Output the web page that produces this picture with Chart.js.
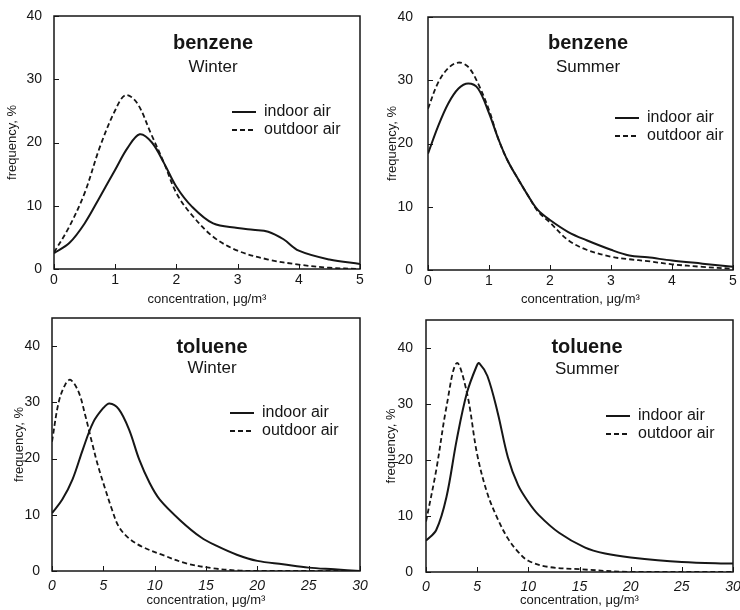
<!DOCTYPE html>
<html>
<head>
<meta charset="utf-8">
<script src="https://cdn.jsdelivr.net/npm/chart.js@4"></script>
<style>
  body { margin: 0; background: #fff; width: 740px; height: 610px; position: relative; overflow: hidden; }
  canvas { position: absolute; }
</style>
</head>
<body>
<canvas id="c1" width="370" height="308" style="left:0;top:0"></canvas>
<canvas id="c2" width="370" height="308" style="left:370px;top:0"></canvas>
<canvas id="c3" width="370" height="310" style="left:0;top:300px"></canvas>
<canvas id="c4" width="370" height="310" style="left:370px;top:300px"></canvas>
<script>
// tick labels
const benzeneXTicks = [0, 1, 2, 3, 4, 5];
const tolueneXTicks = [0, 5, 10, 15, 20, 25, 30];
const freqTicks = [0, 10, 20, 30, 40];

// benzene, winter
const bwIndoorX = [0, 0.25, 0.5, 0.75, 1, 1.2, 1.4, 1.6, 1.8, 2, 2.25, 2.6, 3, 3.25, 3.5, 3.75, 4, 4.5, 5];
const bwIndoor = [2.5, 4.1, 7.2, 11.4, 15.7, 19.1, 21.3, 20, 16.7, 13, 9.9, 7.2, 6.5, 6.2, 5.9, 4.7, 2.9, 1.5, 0.8];
const bwOutdoorX = [0, 0.25, 0.5, 0.75, 1, 1.17, 1.36, 1.58, 1.8, 2, 2.23, 2.6, 3, 3.5, 4, 4.5, 5];
const bwOutdoor = [2.6, 6.7, 12, 19.3, 25.1, 27.5, 26.2, 21.5, 16.7, 12, 8.8, 5.1, 2.9, 1.5, 0.7, 0.2, 0];

// benzene, summer
const bsX = [0, 0.16, 0.33, 0.5, 0.66, 0.82, 1, 1.15, 1.3, 1.5, 1.65, 1.8, 2, 2.3, 2.6, 3, 3.3, 3.6, 4, 4.5, 5];
const bsIndoor = [18.4, 22.6, 26.3, 28.7, 29.5, 28.7, 24.8, 20.8, 17.4, 14, 11.6, 9.5, 7.9, 6, 4.7, 3.2, 2.3, 2.0, 1.5, 1.0, 0.5];
const bsOutdoor = [25.5, 29.5, 31.9, 32.8, 32.1, 29.5, 25.3, 20.8, 17.4, 14, 11.6, 9.3, 7.5, 4.7, 3.2, 2.1, 1.7, 1.4, 0.9, 0.5, 0.2];

// toluene, winter
const twIndoorX = [0, 1, 2, 3, 4, 5, 5.6, 6.5, 7.5, 8.5, 9.5, 10.5, 12.5, 14.5, 16, 18, 20, 22.5, 25, 27.5, 30];
const twIndoor = [10.3, 12.7, 16.3, 21.6, 26.4, 29, 29.8, 28.8, 25.2, 19.8, 15.7, 12.7, 9, 6, 4.5, 2.9, 1.8, 1.2, 0.6, 0.3, 0];
const twOutdoorX = [0, 0.65, 1.3, 1.8, 2.6, 3.25, 3.9, 4.5, 5.2, 5.85, 6.5, 7.5, 8.8, 10.7, 13, 15.6, 18, 20, 25, 30];
const twOutdoor = [23, 30, 33.2, 34, 31.8, 27.6, 22.8, 18.6, 14.5, 10.9, 7.9, 5.8, 4.3, 2.9, 1.4, 0.5, 0.1, 0, 0, 0];

// toluene, summer
const tsIndoorX = [0, 1, 2, 3, 4, 5, 5.2, 6, 7, 8, 9, 10, 11, 13, 15.5, 17.5, 20, 25, 30];
const tsIndoor = [5.6, 7.5, 13.4, 23.6, 32, 37, 37.3, 35, 28.5, 20.5, 15.5, 12.5, 10.2, 7, 4.4, 3.3, 2.6, 1.8, 1.5];
const tsOutdoorX = [0, 1, 2, 3, 4, 5, 6, 7, 8, 9, 10, 12, 15, 20, 30];
const tsOutdoor = [9, 18.2, 29.5, 37.3, 32, 21, 14, 9.5, 6, 3.6, 2, 0.9, 0.5, 0, 0];

const FONT = '"Liberation Sans", Arial, sans-serif';
const INK = '#161616';
Chart.defaults.font.family = FONT;
Chart.defaults.color = INK;

// frame, inward ticks, panel title and legend
const deco = {
  id: 'deco',
  afterDraw(chart, args, o) {
    const { ctx, chartArea: a } = chart;
    const sx = chart.scales.x, sy = chart.scales.y;
    ctx.save();
    ctx.strokeStyle = INK;
    ctx.lineWidth = 1;
    sx.ticks.forEach(t => {
      const px = Math.round(sx.getPixelForValue(t.value)) + 0.5;
      ctx.beginPath(); ctx.moveTo(px, a.bottom); ctx.lineTo(px, a.bottom - 5); ctx.stroke();
    });
    sy.ticks.forEach(t => {
      const py = Math.round(sy.getPixelForValue(t.value)) + 0.5;
      ctx.beginPath(); ctx.moveTo(a.left, py); ctx.lineTo(a.left + 5, py); ctx.stroke();
    });
    ctx.lineWidth = 1.5;
    ctx.strokeRect(a.left, a.top, a.right - a.left, a.bottom - a.top);

    ctx.fillStyle = INK;
    ctx.textAlign = 'center';
    ctx.textBaseline = 'middle';
    ctx.font = 'bold 20px ' + FONT;
    ctx.fillText(o.title, a.left + o.tx, a.top + o.ty1);
    ctx.font = '17px ' + FONT;
    ctx.fillText(o.season, a.left + o.tx, a.top + o.ty2);

    ctx.textAlign = 'left';
    ctx.font = '16px ' + FONT;
    chart.data.datasets.forEach((ds, i) => {
      const y = a.top + o.ly + i * 18;
      ctx.lineWidth = ds.borderWidth;
      ctx.setLineDash(ds.borderDash || []);
      ctx.beginPath(); ctx.moveTo(a.left + o.lx, y); ctx.lineTo(a.left + o.lx + 24, y); ctx.stroke();
      ctx.setLineDash([]);
      ctx.fillText(ds.label, a.left + o.lx + 32, y);
    });
    ctx.restore();
  }
};

function points(xs, ys) {
  return xs.map((x, i) => ({ x: x, y: ys[i] }));
}

function makePanel(id, p) {
  new Chart(document.getElementById(id), {
    type: 'line',
    data: {
      datasets: [{
        label: 'indoor air',
        data: points(p.inX, p.inY),
        borderColor: INK,
        borderWidth: 2,
        pointRadius: 0,
        tension: 0.35
      }, {
        label: 'outdoor air',
        data: points(p.outX, p.outY),
        borderColor: INK,
        borderWidth: 1.8,
        borderDash: [5, 3],
        pointRadius: 0,
        tension: 0.35
      }]
    },
    options: {
      responsive: false,
      animation: false,
      layout: { padding: p.pad },
      plugins: {
        legend: { display: false },
        tooltip: { enabled: false },
        deco: p.deco
      },
      scales: {
        x: {
          type: 'linear',
          min: 0,
          max: p.xTicks[p.xTicks.length - 1],
          afterBuildTicks: s => { s.ticks = p.xTicks.map(v => ({ value: v })); },
          afterFit: s => { s.height = p.xH; s.paddingLeft = 0; s.paddingRight = 0; },
          grid: { display: false, drawTicks: false, tickLength: 0 },
          border: { display: false },
          ticks: { font: { size: 14, style: p.italic ? 'italic' : 'normal' }, padding: p.xPad, maxRotation: 0 },
          title: { display: true, text: 'concentration, μg/m³', font: { size: 13 }, padding: { top: 0, bottom: p.titlePad } }
        },
        y: {
          min: 0,
          max: p.yMax,
          afterBuildTicks: s => { s.ticks = freqTicks.map(v => ({ value: v })); },
          afterFit: s => { s.width = p.yW; s.paddingTop = 0; s.paddingBottom = 0; },
          grid: { display: false, drawTicks: false, tickLength: 0 },
          border: { display: false },
          ticks: { font: { size: 14 }, padding: p.yPad },
          title: { display: true, text: 'frequency, %', font: { size: 13 } }
        }
      }
    },
    plugins: [deco]
  });
}

makePanel('c1', {
  inX: bwIndoorX, inY: bwIndoor, outX: bwOutdoorX, outY: bwOutdoor,
  xTicks: benzeneXTicks, yMax: 40, italic: false,
  pad: { left: 1, top: 16, right: 10, bottom: 0 }, yW: 53, xH: 39, yPad: 12, xPad: 3, titlePad: 1,
  deco: { title: 'benzene', season: 'Winter', tx: 159, ty1: 27, ty2: 51, lx: 178, ly: 96 }
});
makePanel('c2', {
  inX: bsX, inY: bsIndoor, outX: bsX, outY: bsOutdoor,
  xTicks: benzeneXTicks, yMax: 40, italic: false,
  pad: { left: 11, top: 17, right: 7, bottom: 0 }, yW: 47, xH: 38, yPad: 15, xPad: 3, titlePad: 1,
  deco: { title: 'benzene', season: 'Summer', tx: 160, ty1: 26, ty2: 50, lx: 187, ly: 101 }
});
makePanel('c3', {
  inX: twIndoorX, inY: twIndoor, outX: twOutdoorX, outY: twOutdoor,
  xTicks: tolueneXTicks, yMax: 45, italic: true,
  pad: { left: 8, top: 18, right: 10, bottom: 0 }, yW: 44, xH: 39, yPad: 12, xPad: 7, titlePad: 2,
  deco: { title: 'toluene', season: 'Winter', tx: 160, ty1: 29, ty2: 50, lx: 178, ly: 95 }
});
makePanel('c4', {
  inX: tsIndoorX, inY: tsIndoor, outX: tsOutdoorX, outY: tsOutdoor,
  xTicks: tolueneXTicks, yMax: 45, italic: true,
  pad: { left: 10, top: 20, right: 7, bottom: 0 }, yW: 46, xH: 38, yPad: 13, xPad: 7, titlePad: 2,
  deco: { title: 'toluene', season: 'Summer', tx: 161, ty1: 27, ty2: 49, lx: 180, ly: 96 }
});
</script>
</body>
</html>
